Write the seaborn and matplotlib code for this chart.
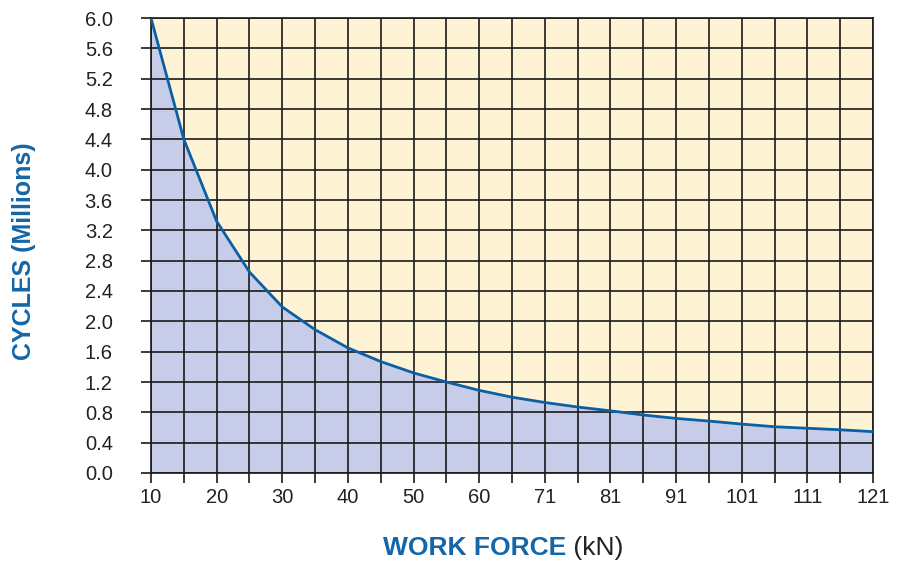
import numpy as np
import matplotlib
matplotlib.use('Agg')
import matplotlib.pyplot as plt
import seaborn as sns

# work force (kN) at each vertical grid line, and cycles (millions)
force = [10.0, 15.05, 20.09, 25.14, 30.18, 35.23, 40.27, 45.32, 50.36, 55.41, 60.45,
         65.5, 70.55, 75.59, 80.64, 85.68, 90.73, 95.77, 100.82, 105.86, 110.91, 115.95, 121.0]
cycles = [6.0, 4.4, 3.32, 2.65, 2.19, 1.89, 1.65, 1.47, 1.32, 1.20, 1.09,
          1.00, 0.93, 0.87, 0.82, 0.765, 0.72, 0.685, 0.645, 0.61, 0.59, 0.57, 0.545]
x_labels = ['10', '', '20', '', '30', '', '40', '', '50', '', '60', '',
            '71', '', '81', '', '91', '', '101', '', '111', '', '121']
y_ticks = [0.0, 0.4, 0.8, 1.2, 1.6, 2.0, 2.4, 2.8, 3.2, 3.6, 4.0, 4.4, 4.8, 5.2, 5.6, 6.0]

sns.set_theme(style='white')
plt.rcParams['font.family'] = ['Liberation Sans', 'DejaVu Sans']

blue = '#0b5fa5'
label_blue = '#1466a8'
cream = '#fff3d6'
lavender = '#c7cde9'
text_color = '#222222'

fig = plt.figure(figsize=(9.01, 5.62), dpi=100)
ax = fig.add_axes([151 / 901, 89 / 562, 722 / 901, 455 / 562])
ax.set_facecolor(cream)

ax.fill_between(force, cycles, 0, color=lavender, linewidth=0, zorder=1)
sns.lineplot(x=force, y=cycles, ax=ax, color=blue, linewidth=2.0, zorder=4)

ax.set_xlim(10, 121)
ax.set_ylim(0, 6.0)
ax.set_xticks(force)
ax.set_xticklabels(x_labels)
ax.set_yticks(y_ticks)
ax.set_yticklabels([f'{v:.1f}' for v in y_ticks])

ax.set_axisbelow(False)
ax.grid(True, color='#1a1a1a', linewidth=1.2)
for s in ax.spines.values():
    s.set_color('#1a1a1a')
    s.set_linewidth(1.2)
    s.set_zorder(3)

ax.tick_params(axis='y', which='both', left=True, length=7, width=1.2, color='#1a1a1a',
               pad=20.5, labelsize=14.5, labelcolor=text_color)
ax.tick_params(axis='x', which='both', bottom=True, length=7, width=1.2, color='#1a1a1a',
               pad=3.5, labelsize=14.5, labelcolor=text_color)
ax.set_xlabel('')
ax.set_ylabel('')

fig.text(24.5 / 901, 1 - 251.5 / 562, 'CYCLES (Millions)', rotation=90, ha='center', va='center',
         fontsize=18, fontweight='bold', color=label_blue)

# x label: bold blue part followed by plain unit
fig.canvas.draw()
renderer = fig.canvas.get_renderer()
base_y = 1 - 555 / 562
t1 = fig.text(0, base_y, 'WORK FORCE', ha='left', va='baseline',
              fontsize=19, fontweight='bold', color=label_blue)
t2 = fig.text(0, base_y, ' (kN)', ha='left', va='baseline',
              fontsize=19, color=text_color)
w1 = t1.get_window_extent(renderer).width
w2 = t2.get_window_extent(renderer).width
start = 503 - (w1 + w2) / 2
t1.set_x(start / 901)
t2.set_x((start + w1) / 901)

fig.savefig('out.png', dpi=100, facecolor='white')
